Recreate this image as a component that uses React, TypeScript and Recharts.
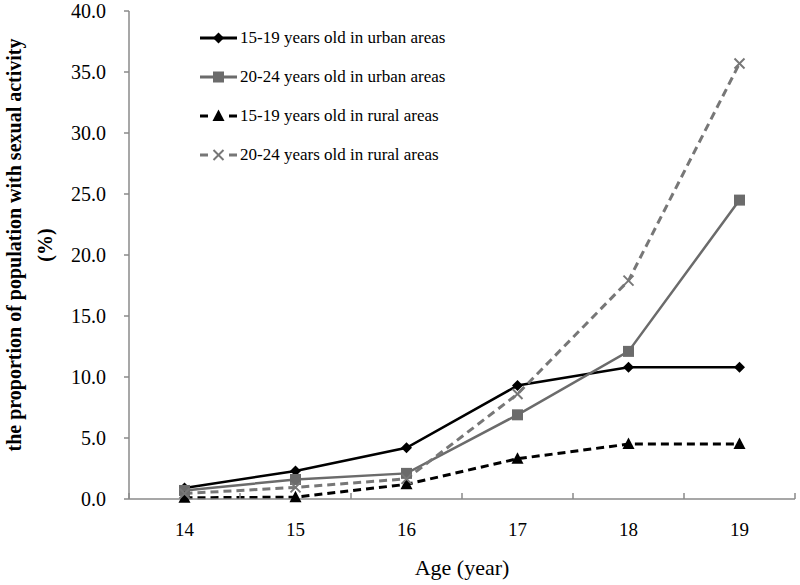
import { Label, Legend, Line, LineChart, XAxis, YAxis } from "recharts";

const ages = [14, 15, 16, 17, 18, 19];
const urban1519 = [0.9, 2.3, 4.2, 9.3, 10.8, 10.8];
const urban2024 = [0.7, 1.6, 2.1, 6.9, 12.1, 24.5];
const rural1519 = [0.1, 0.15, 1.2, 3.3, 4.5, 4.5];
const rural2024 = [0.45, 0.95, 1.65, 8.6, 17.9, 35.7];
const yTicks = [0, 5, 10, 15, 20, 25, 30, 35, 40];
const seriesNames = [
  "15-19 years old in urban areas",
  "20-24 years old in urban areas",
  "15-19 years old in rural areas",
  "20-24 years old in rural areas",
];

const data = ages.map((age, i) => ({
  age,
  u1519: urban1519[i],
  u2024: urban2024[i],
  r1519: rural1519[i],
  r2024: rural2024[i],
}));

// excel-style ticks sit between categories
const xBounds = [...ages.map((a) => a - 0.5), ages[ages.length - 1] + 0.5];

const FONT = '"Liberation Serif", "Times New Roman", serif';
const BLACK = "#000";
const GRAY = "#6b6b6b";
const GRAY_DASH = "#777";
const AXIS = "#8a8a8a";
const DASH = "8 5";

function Diamond({ cx, cy, fill }: any) {
  if (cx == null || cy == null) return null;
  const r = 5.5;
  return (
    <path
      d={`M${cx},${cy - r}L${cx + r},${cy}L${cx},${cy + r}L${cx - r},${cy}Z`}
      fill={fill}
    />
  );
}

function Square({ cx, cy, fill }: any) {
  if (cx == null || cy == null) return null;
  return <rect x={cx - 5.5} y={cy - 5.5} width={11} height={11} fill={fill} />;
}

function Triangle({ cx, cy, fill }: any) {
  if (cx == null || cy == null) return null;
  return (
    <path
      d={`M${cx},${cy - 6.5}L${cx + 6},${cy + 5}L${cx - 6},${cy + 5}Z`}
      fill={fill}
    />
  );
}

function Cross({ cx, cy, fill }: any) {
  if (cx == null || cy == null) return null;
  const r = 5;
  return (
    <g stroke={fill} strokeWidth={2}>
      <line x1={cx - r} y1={cy - r} x2={cx + r} y2={cy + r} />
      <line x1={cx - r} y1={cy + r} x2={cx + r} y2={cy - r} />
    </g>
  );
}

const series = [
  { key: "u1519", name: seriesNames[0], color: BLACK, dash: undefined, Marker: Diamond },
  { key: "u2024", name: seriesNames[1], color: GRAY, dash: undefined, Marker: Square },
  { key: "r1519", name: seriesNames[2], color: BLACK, dash: DASH, Marker: Triangle },
  { key: "r2024", name: seriesNames[3], color: GRAY_DASH, dash: DASH, Marker: Cross },
];

function LegendBox() {
  return (
    <div style={{ fontFamily: FONT, fontSize: 17, color: "#000" }}>
      {series.map((s) => (
        <div
          key={s.key}
          style={{ display: "flex", alignItems: "center", height: 39 }}
        >
          <svg width={40} height={20}>
            <line
              x1={0}
              x2={37}
              y1={10}
              y2={10}
              stroke={s.color}
              strokeWidth={3}
              strokeDasharray={s.dash ? "8 21" : undefined}
            />
            <s.Marker cx={18.5} cy={10} fill={s.color} />
          </svg>
          <span style={{ whiteSpace: "nowrap" }}>{s.name}</span>
        </div>
      ))}
    </div>
  );
}

function XTick(props: any) {
  const { x, y, payload, index, visibleTicksCount, width } = props;
  const step = (width || 666) / (visibleTicksCount - 1);
  const isLast = index === visibleTicksCount - 1;
  return (
    <g>
      <line x1={x} x2={x} y1={y} y2={y - 6} stroke={AXIS} strokeWidth={1.5} />
      {!isLast && (
        <text
          x={x + step / 2}
          y={y + 30}
          textAnchor="middle"
          dominantBaseline="central"
          fontFamily={FONT}
          fontSize={19}
          fill="#000"
        >
          {payload.value + 0.5}
        </text>
      )}
    </g>
  );
}

function YTitle(props: any) {
  const vb = props.viewBox || { x: 0 };
  const cy = 245;
  const x1 = vb.x + 14;
  const x2 = vb.x + 45;
  return (
    <g fontFamily={FONT} fontSize={20} fontWeight="bold" fill="#000">
      <text
        x={x1}
        y={cy}
        transform={`rotate(-90 ${x1} ${cy})`}
        textAnchor="middle"
        dominantBaseline="central"
      >
        the proportion of population with sexual activity
      </text>
      <text
        x={x2}
        y={cy}
        transform={`rotate(-90 ${x2} ${cy})`}
        textAnchor="middle"
        dominantBaseline="central"
      >
        (%)
      </text>
    </g>
  );
}

export default function App() {
  return (
    <div style={{ width: 800, height: 585, background: "#fff" }}>
      <style>{`body { margin: 0; }`}</style>
      <LineChart
        width={800}
        height={585}
        data={data}
        margin={{ top: 11, right: 5, left: 0, bottom: 0 }}
      >
        <XAxis
          dataKey="age"
          type="number"
          domain={[xBounds[0], xBounds[xBounds.length - 1]]}
          ticks={xBounds}
          interval={0}
          height={86}
          tickLine={false}
          tickSize={0}
          tickMargin={0}
          tick={<XTick />}
          axisLine={{ stroke: AXIS, strokeWidth: 1.5 }}
        >
          <Label
            value="Age (year)"
            position="insideBottom"
            offset={10}
            style={{ fontFamily: FONT, fontSize: 22, fill: "#000" }}
          />
        </XAxis>
        <YAxis
          width={129}
          domain={[0, 40]}
          ticks={yTicks}
          interval={0}
          tickFormatter={(v: number) => v.toFixed(1)}
          tickSize={5}
          tickMargin={18}
          tick={{ fontFamily: FONT, fontSize: 20, fill: "#000" }}
          tickLine={{ stroke: AXIS, strokeWidth: 1.5 }}
          axisLine={{ stroke: AXIS, strokeWidth: 1.5 }}
          label={{ content: <YTitle /> }}
        />
        <Legend
          layout="vertical"
          align="center"
          verticalAlign="middle"
          wrapperStyle={{ top: 18, left: 200, width: "auto" }}
          content={<LegendBox />}
        />
        {series.map((s) => (
          <Line
            key={s.key}
            dataKey={s.key}
            name={s.name}
            type="linear"
            stroke={s.color}
            strokeWidth={s.dash ? 3 : 2.5}
            strokeDasharray={s.dash}
            dot={(p: any) => (
              <s.Marker key={`${s.key}-${p.index}`} cx={p.cx} cy={p.cy} fill={s.color} />
            )}
            activeDot={false}
            isAnimationActive={false}
          />
        ))}
      </LineChart>
    </div>
  );
}
